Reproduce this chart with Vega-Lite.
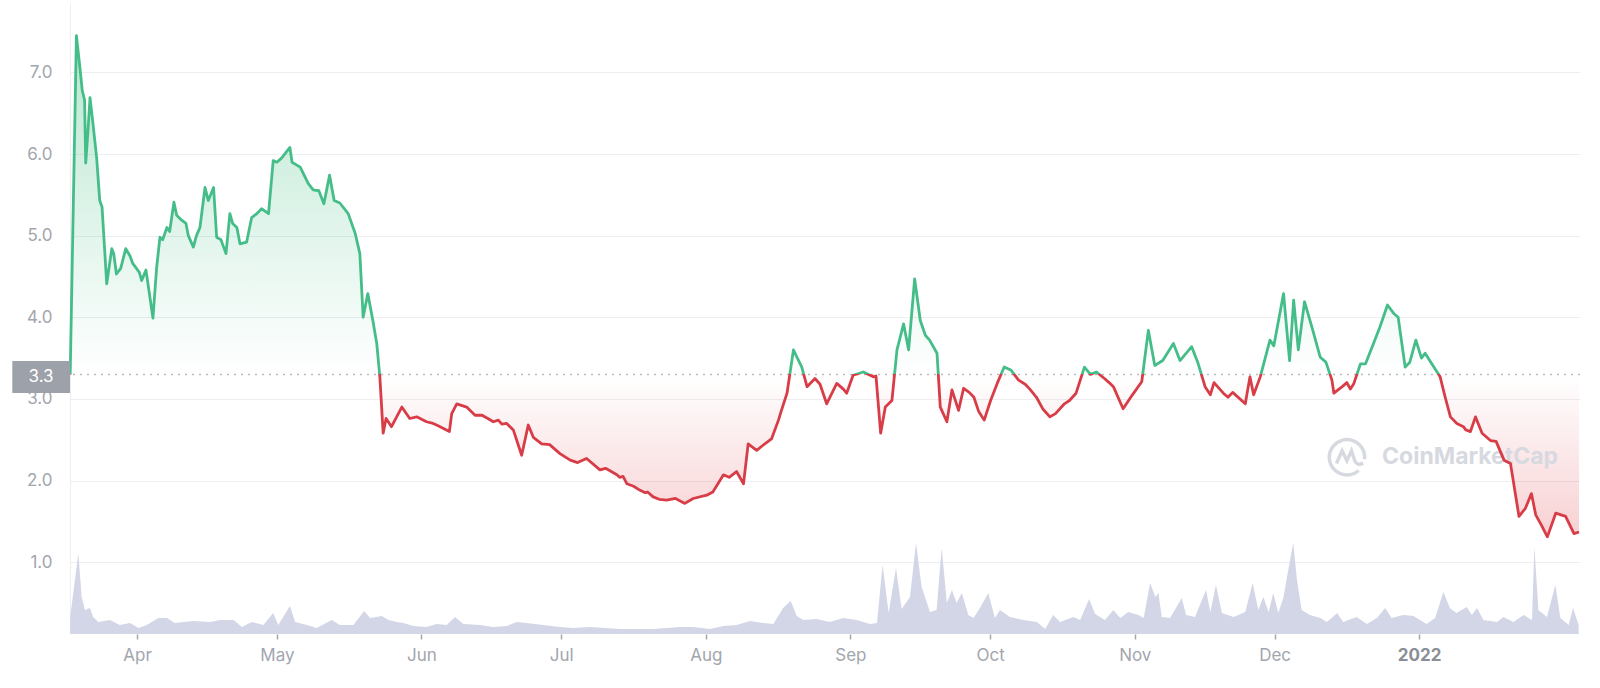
{
  "$schema": "https://vega.github.io/schema/vega-lite/v6.json",
  "width": 1510,
  "height": 631,
  "autosize": {"type": "none"},
  "padding": {"left": 70, "top": 3, "right": 20, "bottom": 54},
  "background": "white",
  "datasets": {
    "price": [
      {"date": "2021-03-17T16:00", "price": 3.30},
      {"date": "2021-03-19T00:00", "price": 7.45},
      {"date": "2021-03-19T18:00", "price": 7.06},
      {"date": "2021-03-20T06:00", "price": 6.78},
      {"date": "2021-03-20T18:00", "price": 6.66},
      {"date": "2021-03-21T00:00", "price": 5.89},
      {"date": "2021-03-21T12:00", "price": 6.30},
      {"date": "2021-03-21T22:00", "price": 6.69},
      {"date": "2021-03-22T12:00", "price": 6.40},
      {"date": "2021-03-23T08:00", "price": 5.96},
      {"date": "2021-03-24T00:00", "price": 5.43},
      {"date": "2021-03-24T12:00", "price": 5.35},
      {"date": "2021-03-25T12:00", "price": 4.41},
      {"date": "2021-03-26T14:00", "price": 4.84},
      {"date": "2021-03-27T00:00", "price": 4.78},
      {"date": "2021-03-27T14:00", "price": 4.53},
      {"date": "2021-03-28T12:00", "price": 4.60},
      {"date": "2021-03-29T14:00", "price": 4.84},
      {"date": "2021-03-30T12:00", "price": 4.75},
      {"date": "2021-03-31T02:00", "price": 4.66},
      {"date": "2021-04-01T12:00", "price": 4.55},
      {"date": "2021-04-02T00:00", "price": 4.45},
      {"date": "2021-04-02T22:00", "price": 4.58},
      {"date": "2021-04-03T12:00", "price": 4.35},
      {"date": "2021-04-04T10:00", "price": 3.99},
      {"date": "2021-04-05T05:00", "price": 4.61},
      {"date": "2021-04-05T22:00", "price": 4.98},
      {"date": "2021-04-06T12:00", "price": 4.95},
      {"date": "2021-04-07T10:00", "price": 5.10},
      {"date": "2021-04-08T00:00", "price": 5.05},
      {"date": "2021-04-08T22:00", "price": 5.41},
      {"date": "2021-04-09T12:00", "price": 5.25},
      {"date": "2021-04-10T14:00", "price": 5.19},
      {"date": "2021-04-11T12:00", "price": 5.15},
      {"date": "2021-04-12T00:00", "price": 5.00},
      {"date": "2021-04-13T02:00", "price": 4.86},
      {"date": "2021-04-13T18:00", "price": 5.00},
      {"date": "2021-04-14T12:00", "price": 5.10},
      {"date": "2021-04-15T14:00", "price": 5.59},
      {"date": "2021-04-16T07:00", "price": 5.43},
      {"date": "2021-04-17T10:00", "price": 5.59},
      {"date": "2021-04-18T02:00", "price": 4.98},
      {"date": "2021-04-19T00:00", "price": 4.95},
      {"date": "2021-04-20T02:00", "price": 4.78},
      {"date": "2021-04-20T22:00", "price": 5.27},
      {"date": "2021-04-21T12:00", "price": 5.15},
      {"date": "2021-04-22T10:00", "price": 5.10},
      {"date": "2021-04-23T02:00", "price": 4.90},
      {"date": "2021-04-24T12:00", "price": 4.92},
      {"date": "2021-04-25T14:00", "price": 5.22},
      {"date": "2021-04-26T17:00", "price": 5.27},
      {"date": "2021-04-27T17:00", "price": 5.33},
      {"date": "2021-04-29T05:00", "price": 5.27},
      {"date": "2021-04-30T05:00", "price": 5.92},
      {"date": "2021-05-01T00:00", "price": 5.90},
      {"date": "2021-05-02T00:00", "price": 5.95},
      {"date": "2021-05-03T19:00", "price": 6.08},
      {"date": "2021-05-04T06:00", "price": 5.90},
      {"date": "2021-05-06T00:00", "price": 5.84},
      {"date": "2021-05-07T17:00", "price": 5.64},
      {"date": "2021-05-08T19:00", "price": 5.56},
      {"date": "2021-05-10T00:00", "price": 5.55},
      {"date": "2021-05-11T02:00", "price": 5.39},
      {"date": "2021-05-12T07:00", "price": 5.74},
      {"date": "2021-05-13T07:00", "price": 5.43},
      {"date": "2021-05-14T12:00", "price": 5.40},
      {"date": "2021-05-16T07:00", "price": 5.27},
      {"date": "2021-05-17T19:00", "price": 5.03},
      {"date": "2021-05-18T19:00", "price": 4.78},
      {"date": "2021-05-19T12:00", "price": 4.00},
      {"date": "2021-05-20T12:00", "price": 4.29},
      {"date": "2021-05-21T14:00", "price": 3.96},
      {"date": "2021-05-22T10:00", "price": 3.68},
      {"date": "2021-05-23T02:00", "price": 3.27},
      {"date": "2021-05-23T19:00", "price": 2.58},
      {"date": "2021-05-24T10:00", "price": 2.76},
      {"date": "2021-05-25T14:00", "price": 2.66},
      {"date": "2021-05-27T19:00", "price": 2.90},
      {"date": "2021-05-29T12:00", "price": 2.76},
      {"date": "2021-05-31T00:00", "price": 2.78},
      {"date": "2021-06-02T02:00", "price": 2.72},
      {"date": "2021-06-03T12:00", "price": 2.70},
      {"date": "2021-06-04T06:00", "price": 2.68},
      {"date": "2021-06-05T00:00", "price": 2.66},
      {"date": "2021-06-07T00:00", "price": 2.60},
      {"date": "2021-06-07T12:00", "price": 2.82},
      {"date": "2021-06-08T14:00", "price": 2.94},
      {"date": "2021-06-10T17:00", "price": 2.90},
      {"date": "2021-06-12T12:00", "price": 2.80},
      {"date": "2021-06-14T00:00", "price": 2.80},
      {"date": "2021-06-15T06:00", "price": 2.76},
      {"date": "2021-06-16T10:00", "price": 2.72},
      {"date": "2021-06-17T12:00", "price": 2.74},
      {"date": "2021-06-18T06:00", "price": 2.69},
      {"date": "2021-06-19T07:00", "price": 2.70},
      {"date": "2021-06-20T17:00", "price": 2.62},
      {"date": "2021-06-22T12:00", "price": 2.31},
      {"date": "2021-06-23T22:00", "price": 2.68},
      {"date": "2021-06-25T00:00", "price": 2.53},
      {"date": "2021-06-26T19:00", "price": 2.45},
      {"date": "2021-06-28T12:00", "price": 2.44},
      {"date": "2021-06-30T17:00", "price": 2.33},
      {"date": "2021-07-02T22:00", "price": 2.25},
      {"date": "2021-07-04T12:00", "price": 2.22},
      {"date": "2021-07-06T10:00", "price": 2.27},
      {"date": "2021-07-09T07:00", "price": 2.13},
      {"date": "2021-07-10T12:00", "price": 2.15},
      {"date": "2021-07-12T22:00", "price": 2.07},
      {"date": "2021-07-13T12:00", "price": 2.04},
      {"date": "2021-07-14T06:00", "price": 2.05},
      {"date": "2021-07-15T02:00", "price": 1.96},
      {"date": "2021-07-16T12:00", "price": 1.93},
      {"date": "2021-07-17T22:00", "price": 1.88},
      {"date": "2021-07-19T00:00", "price": 1.85},
      {"date": "2021-07-19T12:00", "price": 1.86},
      {"date": "2021-07-20T17:00", "price": 1.80},
      {"date": "2021-07-22T00:00", "price": 1.77},
      {"date": "2021-07-23T14:00", "price": 1.76},
      {"date": "2021-07-25T12:00", "price": 1.78},
      {"date": "2021-07-27T12:00", "price": 1.72},
      {"date": "2021-07-29T07:00", "price": 1.78},
      {"date": "2021-08-01T05:00", "price": 1.82},
      {"date": "2021-08-02T12:00", "price": 1.86},
      {"date": "2021-08-03T12:00", "price": 1.95},
      {"date": "2021-08-04T19:00", "price": 2.07},
      {"date": "2021-08-06T00:00", "price": 2.04},
      {"date": "2021-08-07T14:00", "price": 2.11},
      {"date": "2021-08-09T02:00", "price": 1.96},
      {"date": "2021-08-10T02:00", "price": 2.45},
      {"date": "2021-08-11T22:00", "price": 2.37},
      {"date": "2021-08-13T00:00", "price": 2.42},
      {"date": "2021-08-15T02:00", "price": 2.51},
      {"date": "2021-08-16T14:00", "price": 2.74},
      {"date": "2021-08-17T00:00", "price": 2.82},
      {"date": "2021-08-18T10:00", "price": 3.07},
      {"date": "2021-08-19T19:00", "price": 3.60},
      {"date": "2021-08-21T14:00", "price": 3.39},
      {"date": "2021-08-22T17:00", "price": 3.15},
      {"date": "2021-08-24T10:00", "price": 3.25},
      {"date": "2021-08-25T12:00", "price": 3.18},
      {"date": "2021-08-26T22:00", "price": 2.94},
      {"date": "2021-08-29T02:00", "price": 3.19},
      {"date": "2021-08-30T12:00", "price": 3.12},
      {"date": "2021-08-31T05:00", "price": 3.07},
      {"date": "2021-09-01T14:00", "price": 3.29},
      {"date": "2021-09-03T19:00", "price": 3.33},
      {"date": "2021-09-05T22:00", "price": 3.27},
      {"date": "2021-09-06T12:00", "price": 3.28},
      {"date": "2021-09-07T12:00", "price": 2.58},
      {"date": "2021-09-08T12:00", "price": 2.90},
      {"date": "2021-09-09T22:00", "price": 2.98},
      {"date": "2021-09-11T00:00", "price": 3.60},
      {"date": "2021-09-12T10:00", "price": 3.92},
      {"date": "2021-09-13T12:00", "price": 3.60},
      {"date": "2021-09-14T19:00", "price": 4.47},
      {"date": "2021-09-16T00:00", "price": 3.96},
      {"date": "2021-09-17T02:00", "price": 3.78},
      {"date": "2021-09-18T00:00", "price": 3.72},
      {"date": "2021-09-19T14:00", "price": 3.56},
      {"date": "2021-09-20T07:00", "price": 2.90},
      {"date": "2021-09-21T17:00", "price": 2.72},
      {"date": "2021-09-22T19:00", "price": 3.11},
      {"date": "2021-09-24T05:00", "price": 2.86},
      {"date": "2021-09-25T07:00", "price": 3.13},
      {"date": "2021-09-26T12:00", "price": 3.08},
      {"date": "2021-09-27T12:00", "price": 3.02},
      {"date": "2021-09-28T12:00", "price": 2.85},
      {"date": "2021-09-29T17:00", "price": 2.74},
      {"date": "2021-10-01T02:00", "price": 2.98},
      {"date": "2021-10-02T12:00", "price": 3.19},
      {"date": "2021-10-04T00:00", "price": 3.39},
      {"date": "2021-10-05T12:00", "price": 3.35},
      {"date": "2021-10-07T02:00", "price": 3.23},
      {"date": "2021-10-08T12:00", "price": 3.18},
      {"date": "2021-10-09T12:00", "price": 3.12},
      {"date": "2021-10-10T22:00", "price": 3.02},
      {"date": "2021-10-12T06:00", "price": 2.88},
      {"date": "2021-10-13T19:00", "price": 2.78},
      {"date": "2021-10-15T00:00", "price": 2.82},
      {"date": "2021-10-16T22:00", "price": 2.94},
      {"date": "2021-10-18T00:00", "price": 2.98},
      {"date": "2021-10-19T10:00", "price": 3.07},
      {"date": "2021-10-21T05:00", "price": 3.39},
      {"date": "2021-10-22T12:00", "price": 3.30},
      {"date": "2021-10-23T19:00", "price": 3.33},
      {"date": "2021-10-25T12:00", "price": 3.25},
      {"date": "2021-10-26T12:00", "price": 3.20},
      {"date": "2021-10-27T10:00", "price": 3.15},
      {"date": "2021-10-29T12:00", "price": 2.88},
      {"date": "2021-10-31T12:00", "price": 3.05},
      {"date": "2021-11-02T12:00", "price": 3.21},
      {"date": "2021-11-03T22:00", "price": 3.84},
      {"date": "2021-11-05T07:00", "price": 3.41},
      {"date": "2021-11-07T00:00", "price": 3.47},
      {"date": "2021-11-09T07:00", "price": 3.68},
      {"date": "2021-11-10T17:00", "price": 3.47},
      {"date": "2021-11-13T05:00", "price": 3.64},
      {"date": "2021-11-14T12:00", "price": 3.45},
      {"date": "2021-11-16T02:00", "price": 3.15},
      {"date": "2021-11-17T05:00", "price": 3.05},
      {"date": "2021-11-18T00:00", "price": 3.20},
      {"date": "2021-11-20T00:00", "price": 3.07},
      {"date": "2021-11-21T00:00", "price": 3.02},
      {"date": "2021-11-22T00:00", "price": 3.08},
      {"date": "2021-11-24T17:00", "price": 2.94},
      {"date": "2021-11-25T17:00", "price": 3.27},
      {"date": "2021-11-26T12:00", "price": 3.05},
      {"date": "2021-11-27T22:00", "price": 3.27},
      {"date": "2021-11-30T00:00", "price": 3.72},
      {"date": "2021-11-30T20:00", "price": 3.65},
      {"date": "2021-12-02T22:00", "price": 4.29},
      {"date": "2021-12-04T05:00", "price": 3.47},
      {"date": "2021-12-05T02:00", "price": 4.21},
      {"date": "2021-12-06T02:00", "price": 3.60},
      {"date": "2021-12-07T10:00", "price": 4.19},
      {"date": "2021-12-09T00:00", "price": 3.88},
      {"date": "2021-12-10T19:00", "price": 3.51},
      {"date": "2021-12-12T00:00", "price": 3.45},
      {"date": "2021-12-13T07:00", "price": 3.23},
      {"date": "2021-12-13T17:00", "price": 3.07},
      {"date": "2021-12-15T12:00", "price": 3.15},
      {"date": "2021-12-16T12:00", "price": 3.20},
      {"date": "2021-12-17T06:00", "price": 3.12},
      {"date": "2021-12-18T00:00", "price": 3.19},
      {"date": "2021-12-19T10:00", "price": 3.43},
      {"date": "2021-12-20T12:00", "price": 3.43},
      {"date": "2021-12-22T05:00", "price": 3.68},
      {"date": "2021-12-23T14:00", "price": 3.88},
      {"date": "2021-12-25T05:00", "price": 4.15},
      {"date": "2021-12-26T12:00", "price": 4.05},
      {"date": "2021-12-27T12:00", "price": 4.00},
      {"date": "2021-12-29T00:00", "price": 3.39},
      {"date": "2021-12-30T00:00", "price": 3.45},
      {"date": "2021-12-31T07:00", "price": 3.72},
      {"date": "2022-01-01T12:00", "price": 3.50},
      {"date": "2022-01-02T07:00", "price": 3.56},
      {"date": "2022-01-03T12:00", "price": 3.45},
      {"date": "2022-01-05T12:00", "price": 3.27},
      {"date": "2022-01-06T14:00", "price": 3.02},
      {"date": "2022-01-07T17:00", "price": 2.78},
      {"date": "2022-01-09T02:00", "price": 2.70},
      {"date": "2022-01-10T12:00", "price": 2.66},
      {"date": "2022-01-11T00:00", "price": 2.62},
      {"date": "2022-01-12T00:00", "price": 2.60},
      {"date": "2022-01-13T02:00", "price": 2.78},
      {"date": "2022-01-14T12:00", "price": 2.58},
      {"date": "2022-01-16T07:00", "price": 2.49},
      {"date": "2022-01-17T12:00", "price": 2.48},
      {"date": "2022-01-19T05:00", "price": 2.25},
      {"date": "2022-01-20T14:00", "price": 2.21},
      {"date": "2022-01-22T10:00", "price": 1.56},
      {"date": "2022-01-23T19:00", "price": 1.66},
      {"date": "2022-01-25T02:00", "price": 1.84},
      {"date": "2022-01-26T00:00", "price": 1.58},
      {"date": "2022-01-27T06:00", "price": 1.45},
      {"date": "2022-01-28T12:00", "price": 1.31},
      {"date": "2022-01-30T07:00", "price": 1.60},
      {"date": "2022-02-01T10:00", "price": 1.56},
      {"date": "2022-02-03T05:00", "price": 1.35},
      {"date": "2022-02-04T07:00", "price": 1.37}
    ],
    "volume": [
      {"date": "2021-03-17T16:00", "volume": 17},
      {"date": "2021-03-19T10:00", "volume": 81},
      {"date": "2021-03-20T03:00", "volume": 37},
      {"date": "2021-03-20T20:00", "volume": 24},
      {"date": "2021-03-21T22:00", "volume": 26},
      {"date": "2021-03-22T14:00", "volume": 17},
      {"date": "2021-03-23T17:00", "volume": 12},
      {"date": "2021-03-26T05:00", "volume": 14},
      {"date": "2021-03-28T07:00", "volume": 9},
      {"date": "2021-03-30T12:00", "volume": 11},
      {"date": "2021-04-01T07:00", "volume": 6},
      {"date": "2021-04-03T02:00", "volume": 9},
      {"date": "2021-04-05T14:00", "volume": 16},
      {"date": "2021-04-07T10:00", "volume": 16},
      {"date": "2021-04-09T02:00", "volume": 11},
      {"date": "2021-04-13T02:00", "volume": 13},
      {"date": "2021-04-16T17:00", "volume": 12},
      {"date": "2021-04-18T19:00", "volume": 14},
      {"date": "2021-04-21T17:00", "volume": 14},
      {"date": "2021-04-23T12:00", "volume": 7},
      {"date": "2021-04-25T14:00", "volume": 12},
      {"date": "2021-04-28T02:00", "volume": 9},
      {"date": "2021-04-30T05:00", "volume": 21},
      {"date": "2021-05-01T07:00", "volume": 9},
      {"date": "2021-05-03T19:00", "volume": 28},
      {"date": "2021-05-04T22:00", "volume": 12},
      {"date": "2021-05-07T10:00", "volume": 9},
      {"date": "2021-05-09T12:00", "volume": 6},
      {"date": "2021-05-12T19:00", "volume": 14},
      {"date": "2021-05-14T12:00", "volume": 9},
      {"date": "2021-05-17T10:00", "volume": 9},
      {"date": "2021-05-19T17:00", "volume": 23},
      {"date": "2021-05-21T00:00", "volume": 16},
      {"date": "2021-05-23T12:00", "volume": 18},
      {"date": "2021-05-24T22:00", "volume": 14},
      {"date": "2021-05-26T17:00", "volume": 12},
      {"date": "2021-05-28T02:00", "volume": 11},
      {"date": "2021-05-30T07:00", "volume": 8},
      {"date": "2021-06-02T02:00", "volume": 7},
      {"date": "2021-06-04T07:00", "volume": 10},
      {"date": "2021-06-06T10:00", "volume": 9},
      {"date": "2021-06-08T05:00", "volume": 17},
      {"date": "2021-06-10T00:00", "volume": 10},
      {"date": "2021-06-13T14:00", "volume": 9},
      {"date": "2021-06-16T10:00", "volume": 7},
      {"date": "2021-06-19T07:00", "volume": 8},
      {"date": "2021-06-21T10:00", "volume": 12},
      {"date": "2021-06-23T14:00", "volume": 11},
      {"date": "2021-06-27T02:00", "volume": 9},
      {"date": "2021-06-30T17:00", "volume": 7},
      {"date": "2021-07-03T14:00", "volume": 6},
      {"date": "2021-07-07T05:00", "volume": 7},
      {"date": "2021-07-13T14:00", "volume": 5},
      {"date": "2021-07-20T17:00", "volume": 5},
      {"date": "2021-07-26T12:00", "volume": 7},
      {"date": "2021-07-29T07:00", "volume": 7},
      {"date": "2021-08-01T22:00", "volume": 5},
      {"date": "2021-08-04T19:00", "volume": 8},
      {"date": "2021-08-07T14:00", "volume": 9},
      {"date": "2021-08-10T12:00", "volume": 13},
      {"date": "2021-08-13T07:00", "volume": 11},
      {"date": "2021-08-15T12:00", "volume": 10},
      {"date": "2021-08-17T14:00", "volume": 26},
      {"date": "2021-08-19T05:00", "volume": 33},
      {"date": "2021-08-20T12:00", "volume": 18},
      {"date": "2021-08-21T22:00", "volume": 14},
      {"date": "2021-08-24T19:00", "volume": 15},
      {"date": "2021-08-27T14:00", "volume": 12},
      {"date": "2021-08-30T12:00", "volume": 16},
      {"date": "2021-09-02T10:00", "volume": 14},
      {"date": "2021-09-05T05:00", "volume": 10},
      {"date": "2021-09-06T17:00", "volume": 11},
      {"date": "2021-09-07T22:00", "volume": 69},
      {"date": "2021-09-09T05:00", "volume": 21},
      {"date": "2021-09-10T19:00", "volume": 66},
      {"date": "2021-09-12T00:00", "volume": 25},
      {"date": "2021-09-13T19:00", "volume": 37},
      {"date": "2021-09-15T02:00", "volume": 91},
      {"date": "2021-09-16T07:00", "volume": 47},
      {"date": "2021-09-18T02:00", "volume": 22},
      {"date": "2021-09-19T12:00", "volume": 24},
      {"date": "2021-09-20T14:00", "volume": 86},
      {"date": "2021-09-21T17:00", "volume": 31},
      {"date": "2021-09-22T19:00", "volume": 44},
      {"date": "2021-09-23T19:00", "volume": 31},
      {"date": "2021-09-24T22:00", "volume": 41},
      {"date": "2021-09-26T07:00", "volume": 19},
      {"date": "2021-09-27T10:00", "volume": 16},
      {"date": "2021-09-28T19:00", "volume": 26},
      {"date": "2021-09-30T14:00", "volume": 41},
      {"date": "2021-10-02T00:00", "volume": 16},
      {"date": "2021-10-03T02:00", "volume": 24},
      {"date": "2021-10-05T05:00", "volume": 17},
      {"date": "2021-10-08T02:00", "volume": 14},
      {"date": "2021-10-11T00:00", "volume": 12},
      {"date": "2021-10-12T19:00", "volume": 5},
      {"date": "2021-10-14T12:00", "volume": 19},
      {"date": "2021-10-16T00:00", "volume": 12},
      {"date": "2021-10-18T19:00", "volume": 17},
      {"date": "2021-10-20T07:00", "volume": 14},
      {"date": "2021-10-22T05:00", "volume": 35},
      {"date": "2021-10-23T12:00", "volume": 20},
      {"date": "2021-10-25T14:00", "volume": 14},
      {"date": "2021-10-27T10:00", "volume": 24},
      {"date": "2021-10-28T22:00", "volume": 16},
      {"date": "2021-10-30T14:00", "volume": 22},
      {"date": "2021-11-01T19:00", "volume": 19},
      {"date": "2021-11-02T22:00", "volume": 16},
      {"date": "2021-11-04T07:00", "volume": 51},
      {"date": "2021-11-05T10:00", "volume": 37},
      {"date": "2021-11-06T02:00", "volume": 41},
      {"date": "2021-11-06T19:00", "volume": 17},
      {"date": "2021-11-08T14:00", "volume": 16},
      {"date": "2021-11-11T02:00", "volume": 36},
      {"date": "2021-11-12T00:00", "volume": 19},
      {"date": "2021-11-13T22:00", "volume": 17},
      {"date": "2021-11-16T07:00", "volume": 44},
      {"date": "2021-11-17T05:00", "volume": 22},
      {"date": "2021-11-18T10:00", "volume": 49},
      {"date": "2021-11-19T17:00", "volume": 21},
      {"date": "2021-11-22T05:00", "volume": 17},
      {"date": "2021-11-24T17:00", "volume": 22},
      {"date": "2021-11-26T07:00", "volume": 51},
      {"date": "2021-11-27T12:00", "volume": 24},
      {"date": "2021-11-28T14:00", "volume": 37},
      {"date": "2021-11-29T17:00", "volume": 22},
      {"date": "2021-11-30T17:00", "volume": 41},
      {"date": "2021-12-01T19:00", "volume": 21},
      {"date": "2021-12-02T22:00", "volume": 37},
      {"date": "2021-12-03T22:00", "volume": 64},
      {"date": "2021-12-05T00:00", "volume": 91},
      {"date": "2021-12-05T19:00", "volume": 54},
      {"date": "2021-12-06T19:00", "volume": 24},
      {"date": "2021-12-08T14:00", "volume": 19},
      {"date": "2021-12-10T19:00", "volume": 16},
      {"date": "2021-12-12T05:00", "volume": 12},
      {"date": "2021-12-14T10:00", "volume": 21},
      {"date": "2021-12-15T17:00", "volume": 12},
      {"date": "2021-12-18T14:00", "volume": 17},
      {"date": "2021-12-20T19:00", "volume": 10},
      {"date": "2021-12-22T22:00", "volume": 16},
      {"date": "2021-12-24T17:00", "volume": 26},
      {"date": "2021-12-26T02:00", "volume": 16},
      {"date": "2021-12-28T14:00", "volume": 19},
      {"date": "2021-12-30T19:00", "volume": 18},
      {"date": "2022-01-02T14:00", "volume": 10},
      {"date": "2022-01-04T10:00", "volume": 16},
      {"date": "2022-01-06T05:00", "volume": 42},
      {"date": "2022-01-07T14:00", "volume": 26},
      {"date": "2022-01-09T00:00", "volume": 21},
      {"date": "2022-01-11T05:00", "volume": 27},
      {"date": "2022-01-12T07:00", "volume": 19},
      {"date": "2022-01-13T10:00", "volume": 26},
      {"date": "2022-01-14T19:00", "volume": 14},
      {"date": "2022-01-17T17:00", "volume": 12},
      {"date": "2022-01-19T02:00", "volume": 17},
      {"date": "2022-01-21T05:00", "volume": 12},
      {"date": "2022-01-23T10:00", "volume": 19},
      {"date": "2022-01-25T05:00", "volume": 14},
      {"date": "2022-01-25T17:00", "volume": 87},
      {"date": "2022-01-26T14:00", "volume": 24},
      {"date": "2022-01-28T10:00", "volume": 17},
      {"date": "2022-01-30T05:00", "volume": 49},
      {"date": "2022-01-31T07:00", "volume": 16},
      {"date": "2022-02-02T02:00", "volume": 9},
      {"date": "2022-02-03T00:00", "volume": 26},
      {"date": "2022-02-04T05:00", "volume": 9}
    ]
  },
  "layer": [
    {
      "data": {"name": "volume"},
      "mark": {"type": "area", "color": "#d3d6e6", "opacity": 1},
      "encoding": {
        "x": {
          "field": "date",
          "type": "temporal",
          "title": null,
          "scale": {"domain": [{"year": 2021, "month": 3, "date": 17, "hours": 15}, {"year": 2022, "month": 2, "date": 4, "hours": 12}]},
          "axis": {
            "values": [
              {"year": 2021, "month": 4, "date": 1},
              {"year": 2021, "month": 5, "date": 1},
              {"year": 2021, "month": 6, "date": 1},
              {"year": 2021, "month": 7, "date": 1},
              {"year": 2021, "month": 8, "date": 1},
              {"year": 2021, "month": 9, "date": 1},
              {"year": 2021, "month": 10, "date": 1},
              {"year": 2021, "month": 11, "date": 1},
              {"year": 2021, "month": 12, "date": 1},
              {"year": 2022, "month": 1, "date": 1}
            ],
            "labelExpr": "month(datum.value) == 0 ? timeFormat(datum.value, '%Y') : timeFormat(datum.value, '%b')",
            "labelFontWeight": {"condition": {"test": "month(datum.value) == 0", "value": "bold"}, "value": "normal"},
            "labelColor": {"condition": {"test": "month(datum.value) == 0", "value": "#8a8e96"}, "value": "#a2a6ad"},
            "labelFontSize": 17,
            "labelPadding": 8,
            "ticks": true,
            "tickSize": 5,
            "tickWidth": 1.5,
            "tickColor": "#a2a6ad",
            "domain": false,
            "grid": false
          }
        },
        "y": {
          "field": "volume",
          "type": "quantitative",
          "title": null,
          "scale": {"domain": [0, 631], "nice": false},
          "axis": {"labels": false, "ticks": false, "domain": false, "grid": false, "orient": "right"}
        }
      }
    },
    {
      "data": {"name": "price"},
      "layer": [
        {
          "mark": {
            "type": "area",
            "fill": {
              "gradient": "linear",
              "x1": 0, "y1": 0, "x2": 0, "y2": 1,
              "stops": [
                {"offset": 0, "color": "rgba(61,187,127,0.36)"},
                {"offset": 0.6759, "color": "rgba(61,187,127,0.0)"},
                {"offset": 0.6759, "color": "rgba(226,60,70,0.0)"},
                {"offset": 1, "color": "rgba(226,60,70,0.24)"}
              ]
            }
          },
          "encoding": {
            "x": {"field": "date", "type": "temporal", "title": null, "scale": {"domain": [{"year": 2021, "month": 3, "date": 17, "hours": 15}, {"year": 2022, "month": 2, "date": 4, "hours": 12}]}},
            "y": {
              "field": "price",
              "type": "quantitative",
              "title": null,
              "scale": {"domain": [0.12, 7.85], "nice": false, "zero": false},
              "axis": {
                "orient": "left",
                "values": [1, 2, 3, 4, 5, 6, 7],
                "format": ".1f",
                "labelFontSize": 17,
                "labelColor": "#a2a6ad",
                "labelPadding": 18,
                "ticks": false,
                "domain": true,
                "domainColor": "#eceef1",
                "grid": true,
                "gridColor": "#eceef1",
                "gridWidth": 1
              }
            },
            "y2": {"datum": 3.3}
          }
        },
        {
          "data": {"values": [{}]},
          "mark": {"type": "rule", "stroke": "#b9bcc2", "strokeWidth": 1.5, "strokeDash": [2, 5]},
          "encoding": {
            "y": {"datum": 3.3, "type": "quantitative", "title": null, "scale": {"domain": [0.12, 7.85], "nice": false, "zero": false}}
          }
        },
        {
          "data": {"values": [{}]},
          "mark": {
            "type": "point",
            "shape": "M 0.62 0.72 A 0.93 0.93 0 1 1 0.93 0.12 M -0.55 0.35 L -0.25 -0.32 L 0 0.2 L 0.24 -0.32 L 0.42 0.22 Q 0.55 0.5 0.86 0.32",
            "filled": false,
            "stroke": "#d6d9df",
            "strokeWidth": 3.5,
            "size": 1444,
            "opacity": 1
          },
          "encoding": {
            "x": {"datum": {"year": 2021, "month": 12, "date": 16, "hours": 12}, "type": "temporal", "title": null, "scale": {"domain": [{"year": 2021, "month": 3, "date": 17, "hours": 15}, {"year": 2022, "month": 2, "date": 4, "hours": 12}]}},
            "y": {"datum": 2.29, "type": "quantitative", "title": null, "scale": {"domain": [0.12, 7.85], "nice": false, "zero": false}}
          }
        },
        {
          "data": {"values": [{}]},
          "mark": {"type": "text", "text": "CoinMarketCap", "font": "Inter", "fontSize": 23, "fontWeight": "bold", "color": "#d6d9df", "align": "left", "baseline": "middle"},
          "encoding": {
            "x": {"datum": {"year": 2021, "month": 12, "date": 24, "hours": 1}, "type": "temporal", "title": null, "scale": {"domain": [{"year": 2021, "month": 3, "date": 17, "hours": 15}, {"year": 2022, "month": 2, "date": 4, "hours": 12}]}},
            "y": {"datum": 2.29, "type": "quantitative", "title": null, "scale": {"domain": [0.12, 7.85], "nice": false, "zero": false}}
          }
        },
        {
          "mark": {
            "type": "line",
            "strokeWidth": 2.8,
            "strokeJoin": "round",
            "stroke": {
              "gradient": "linear",
              "x1": 0, "y1": 0, "x2": 0, "y2": 1,
              "stops": [
                {"offset": 0, "color": "#45bd88"},
                {"offset": 0.6759, "color": "#45bd88"},
                {"offset": 0.6759, "color": "#d83c47"},
                {"offset": 1, "color": "#d83c47"}
              ]
            }
          },
          "encoding": {
            "x": {"field": "date", "type": "temporal", "title": null, "scale": {"domain": [{"year": 2021, "month": 3, "date": 17, "hours": 15}, {"year": 2022, "month": 2, "date": 4, "hours": 12}]}},
            "y": {"field": "price", "type": "quantitative", "title": null, "scale": {"domain": [0.12, 7.85], "nice": false, "zero": false}}
          }
        },
        {
          "data": {"values": [{}]},
          "mark": {"type": "rect", "color": "#9da1aa", "opacity": 1},
          "encoding": {
            "x": {"datum": {"year": 2021, "month": 3, "date": 5, "hours": 6}, "type": "temporal", "title": null, "scale": {"domain": [{"year": 2021, "month": 3, "date": 17, "hours": 15}, {"year": 2022, "month": 2, "date": 4, "hours": 12}]}},
            "x2": {"datum": {"year": 2021, "month": 3, "date": 17, "hours": 15}},
            "y": {"datum": 3.464, "type": "quantitative", "title": null, "scale": {"domain": [0.12, 7.85], "nice": false, "zero": false}},
            "y2": {"datum": 3.072}
          }
        },
        {
          "data": {"values": [{}]},
          "mark": {"type": "text", "text": "3.3", "font": "Inter", "fontSize": 17, "color": "#ffffff", "align": "center", "baseline": "middle"},
          "encoding": {
            "x": {"datum": {"year": 2021, "month": 3, "date": 11, "hours": 10}, "type": "temporal", "title": null, "scale": {"domain": [{"year": 2021, "month": 3, "date": 17, "hours": 15}, {"year": 2022, "month": 2, "date": 4, "hours": 12}]}},
            "y": {"datum": 3.268, "type": "quantitative", "title": null, "scale": {"domain": [0.12, 7.85], "nice": false, "zero": false}}
          }
        }
      ]
    }
  ],
  "resolve": {"scale": {"y": "independent"}},
  "config": {
    "view": {"stroke": null},
    "font": "Inter",
    "axis": {"labelFont": "Inter", "titleFont": "Inter"}
  }
}
